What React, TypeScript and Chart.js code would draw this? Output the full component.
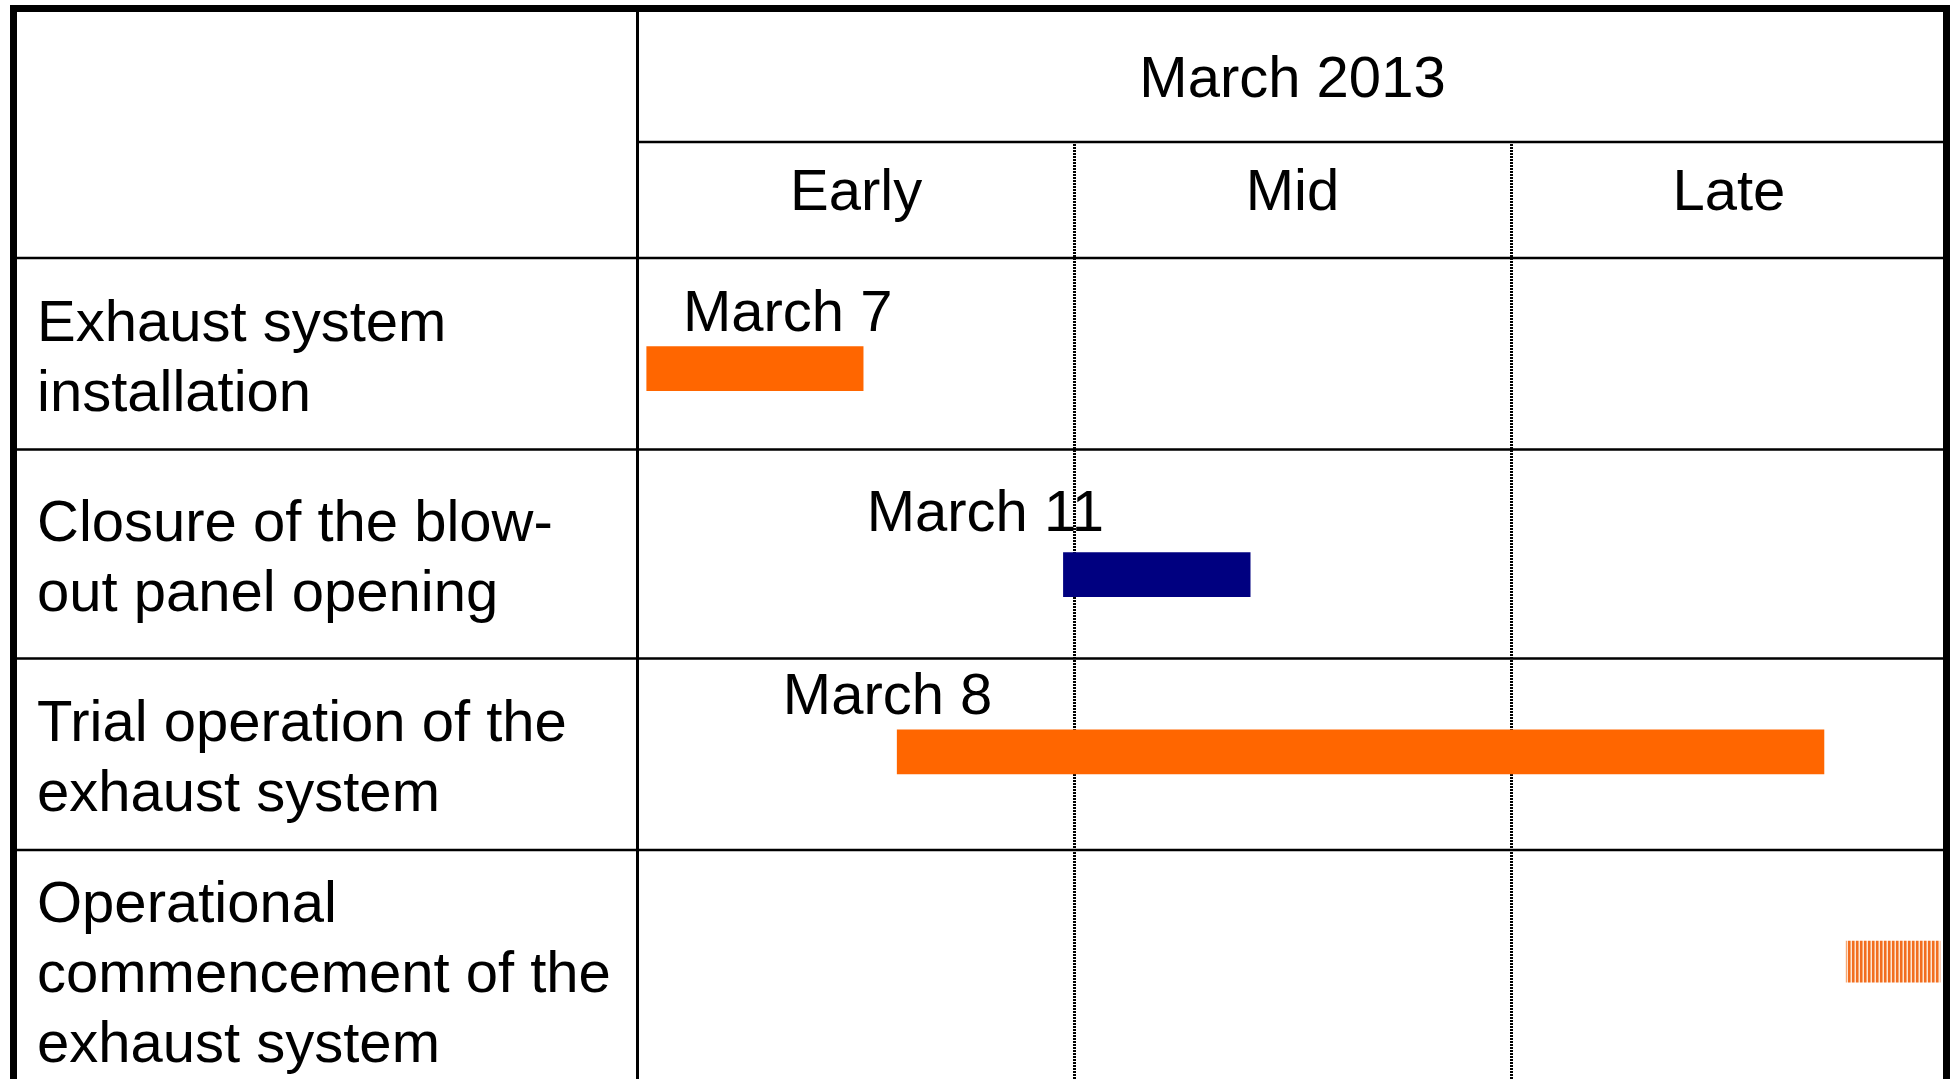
import React, { useEffect, useRef } from 'react';
import { Chart, registerables } from 'chart.js';

Chart.register(...registerables);

// ---------- data ----------
const monthTitle = 'March 2013';
const periods = ['Early', 'Mid', 'Late'];
const periodEdges = [0, 10, 20, 30]; // day positions bounding each period
const taskLines = [
  ['Exhaust system', 'installation'],
  ['Closure of the blow-', 'out panel opening'],
  ['Trial operation of the', 'exhaust system'],
  ['Operational', 'commencement of the', 'exhaust system'],
];
const barStart = [0.2, 9.75, 5.94, 27.69];
const barEnd = [5.16, 14.03, 27.18, 29.84];
const barLabels = ['March 7', 'March 11', 'March 8', ''];
const barLabelStart = [1.03, 5.24, 3.32, 0];
const barStatus = ['solid', 'solid', 'solid', 'hatched'];

// ---------- layout / style ----------
const W = 1950;
const H = 1100;
const VIEW_H = 1079;
const PLOT_LEFT = 638;
const PLOT_RIGHT = 1947;
const RIGHT_BORDER_X = 1943;
const ROW_WEIGHTS = [191.5, 209, 191.5, 240];
const BAR_POS = [0.578, 0.599, 0.488, 0.465];
const LABEL_GAP = [16, 22, 16, 16];
const BAR_COLORS = ['#FF6600', '#000080', '#FF6600', 'pattern'];
const FONT = '58px "Liberation Sans", Arial, Helvetica, sans-serif';
const LINE_H = 70;

const rowEdges: number[] = [0];
ROW_WEIGHTS.forEach((w, i) => rowEdges.push(rowEdges[i] + w));
const totalRows = rowEdges[rowEdges.length - 1];
const barY = (i: number) => rowEdges[i] + BAR_POS[i] * ROW_WEIGHTS[i];

function makePattern(): CanvasPattern | string {
  const c = document.createElement('canvas');
  c.width = 4;
  c.height = 4;
  const g = c.getContext('2d');
  if (!g) return '#F5A060';
  g.fillStyle = '#F26D1F';
  g.fillRect(0, 0, 2, 4);
  g.fillStyle = '#F7A872';
  g.fillRect(2, 0, 1, 4);
  g.fillStyle = '#FDE4D2';
  g.fillRect(3, 0, 1, 4);
  return g.createPattern(c, 'repeat') || '#F5A060';
}

const tablePlugin = {
  id: 'ganttTable',
  beforeDatasetsDraw(chart: any) {
    const { ctx, chartArea: ca } = chart;
    const xs = chart.scales.x;
    const ys = chart.scales.y;
    const rb = RIGHT_BORDER_X;
    ctx.save();
    ctx.fillStyle = '#000';
    // outer border
    ctx.fillRect(10, 5, W - 10, 7);
    ctx.fillRect(10, 5, 7, H);
    ctx.fillRect(rb, 5, 7, H);
    // label column divider
    ctx.fillRect(ca.left - 2, 12, 3, H);
    // header sub separator
    const subY = 142;
    ctx.fillRect(ca.left, subY - 1.25, rb - ca.left, 2.5);
    // header bottom
    ctx.fillRect(17, ca.top - 1.25, rb - 17, 2.5);
    // row separators
    for (let k = 1; k < rowEdges.length - 1; k++) {
      const y = ys.getPixelForValue(rowEdges[k]);
      ctx.fillRect(17, y - 1.25, rb - 17, 2.5);
    }
    // dotted period dividers
    ctx.strokeStyle = '#000';
    ctx.lineWidth = 3;
    ctx.setLineDash([2, 1]);
    for (let k = 1; k < periodEdges.length - 1; k++) {
      const x = Math.round(xs.getPixelForValue(periodEdges[k])) + 0.5;
      ctx.beginPath();
      ctx.moveTo(x, subY + 2);
      ctx.lineTo(x, H);
      ctx.stroke();
    }
    ctx.setLineDash([]);
    // texts
    ctx.font = FONT;
    ctx.fillStyle = '#000';
    ctx.textBaseline = 'alphabetic';
    ctx.textAlign = 'center';
    ctx.fillText(monthTitle, xs.getPixelForValue((periodEdges[0] + periodEdges[periodEdges.length - 1]) / 2), 97);
    periods.forEach((p, i) => {
      const cx = (xs.getPixelForValue(periodEdges[i]) + xs.getPixelForValue(periodEdges[i + 1])) / 2;
      ctx.fillText(p, cx, 210);
    });
    ctx.textAlign = 'left';
    taskLines.forEach((lines, i) => {
      const cy = ys.getPixelForValue((rowEdges[i] + rowEdges[i + 1]) / 2);
      const first = cy + 22 - ((lines.length - 1) * LINE_H) / 2;
      lines.forEach((ln, j) => ctx.fillText(ln, 37, first + j * LINE_H));
    });
    ctx.restore();
  },
  afterDatasetsDraw(chart: any) {
    const { ctx } = chart;
    const xs = chart.scales.x;
    ctx.save();
    ctx.font = FONT;
    ctx.fillStyle = '#000';
    ctx.textAlign = 'left';
    ctx.textBaseline = 'alphabetic';
    chart.data.datasets.forEach((ds: any, di: number) => {
      const meta = chart.getDatasetMeta(di);
      ds.taskIdx.forEach((ti: number, k: number) => {
        const el = meta.data[k];
        if (!el || !barLabels[ti]) return;
        const top = el.y - el.height / 2;
        ctx.fillText(barLabels[ti], xs.getPixelForValue(barLabelStart[ti]), top - LABEL_GAP[ti]);
      });
    });
    ctx.restore();
  },
};

export default function App() {
  const ref = useRef<HTMLCanvasElement>(null);
  useEffect(() => {
    const canvas = ref.current;
    if (!canvas) return;
    const pattern = makePattern();
    const idx = barStart.map((_, i) => i);
    const solidIdx = idx.filter((i) => barStatus[i] === 'solid');
    const hatchIdx = idx.filter((i) => barStatus[i] === 'hatched');
    const mk = (list: number[]) => list.map((i) => ({ x: [barStart[i], barEnd[i]], y: barY(i) }));
    const chart = new Chart(canvas, {
      type: 'bar',
      data: {
        datasets: [
          {
            label: 'Schedule',
            data: mk(solidIdx) as any,
            backgroundColor: solidIdx.map((i) => BAR_COLORS[i]),
            borderWidth: 0,
            borderSkipped: false,
            barThickness: 44,
            grouped: false,
            taskIdx: solidIdx,
          } as any,
          {
            label: 'Operation',
            data: mk(hatchIdx) as any,
            backgroundColor: pattern as any,
            borderWidth: 0,
            borderSkipped: false,
            barThickness: 41,
            grouped: false,
            taskIdx: hatchIdx,
          } as any,
        ],
      },
      options: {
        animation: false,
        responsive: false,
        devicePixelRatio: 1,
        indexAxis: 'y',
        events: [],
        layout: { padding: { left: PLOT_LEFT, right: W - PLOT_RIGHT, top: 258, bottom: H - 1090 } },
        plugins: {
          legend: { display: false },
          tooltip: { enabled: false },
          title: { display: false },
        },
        scales: {
          x: {
            type: 'linear',
            min: periodEdges[0],
            max: periodEdges[periodEdges.length - 1],
            offset: false,
            display: false,
          },
          y: {
            type: 'linear',
            min: 0,
            max: totalRows,
            reverse: true,
            offset: false,
            grid: { offset: false },
            display: false,
          },
        },
      } as any,
      plugins: [tablePlugin],
    });
    return () => chart.destroy();
  }, []);
  return (
    <div
      style={{
        position: 'fixed',
        left: 0,
        top: 0,
        width: W,
        height: VIEW_H,
        overflow: 'hidden',
        background: '#fff',
      }}
    >
      <canvas ref={ref} width={W} height={H} style={{ display: 'block', width: W, height: H }} />
    </div>
  );
}
